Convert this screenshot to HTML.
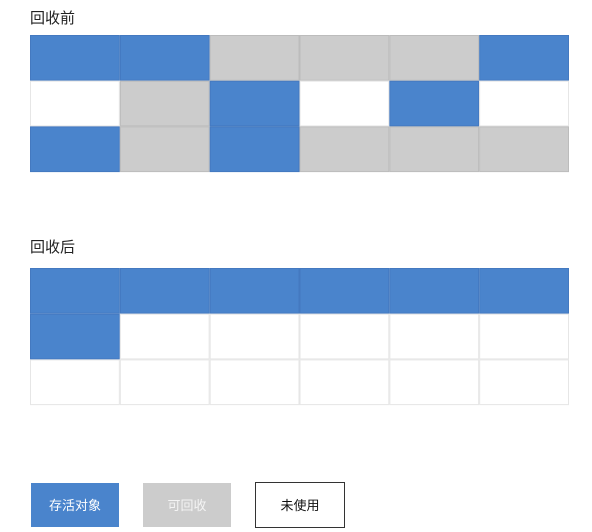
<!DOCTYPE html>
<html><head><meta charset="utf-8"><style>
html,body{margin:0;padding:0;background:#fff;width:592px;height:532px;overflow:hidden}
svg{display:block}
text{font-family:"Liberation Sans","Noto Sans CJK SC",sans-serif}
</style></head><body>
<svg id="c" width="592" height="532">
<text x="30" y="23" font-size="15" fill="#222">回收前</text>
<text x="30" y="252" font-size="15" fill="#222">回收后</text>
<g id="g1"></g>
<g id="g2"></g>
<g>
<rect x="31" y="483" width="88" height="44" fill="#4a84cc"/>
<text x="75" y="510" font-size="13" fill="#fff" text-anchor="middle">存活对象</text>
<rect x="143" y="483" width="88" height="44" fill="#cccccc"/>
<text x="187" y="510" font-size="13" fill="#f4f4f4" text-anchor="middle">可回收</text>
<rect x="255.5" y="482.5" width="89" height="45" fill="#fff" stroke="#333" stroke-width="1"/>
<text x="300" y="510" font-size="13" fill="#111" text-anchor="middle">未使用</text>
</g>
</svg>
<script>
// 0 = unused, 1 = live, 2 = reclaimable
const beforeCells = [1,1,2,2,2,1, 0,2,1,0,1,0, 1,2,1,2,2,2];
const afterCells  = [1,1,1,1,1,1, 1,0,0,0,0,0, 0,0,0,0,0,0];
const cols = 6;
const fills = ['#ffffff','#4a84cc','#cccccc'];
const strokes = ['#e6e6e6','#4479c0','#bcbcbc'];
const names = ['unused','live','reclaimable'];
const NS = 'http://www.w3.org/2000/svg';
function draw(gid, cells, top){
  const g = document.getElementById(gid);
  const x0 = 30, w = (569-30)/cols, h = 45.7;
  cells.forEach((v,i)=>{
    const r = Math.floor(i/cols), c = i%cols;
    const el = document.createElementNS(NS,'rect');
    el.setAttribute('x', x0 + c*w + 0.5);
    el.setAttribute('y', top + r*h + 0.5);
    el.setAttribute('width', w - 1);
    el.setAttribute('height', h - 1);
    el.setAttribute('fill', fills[v]);
    el.setAttribute('stroke', strokes[v]);
    el.setAttribute('stroke-width', '1');
    
    
    g.appendChild(el);
  });
}
draw('g1', beforeCells, 35);
draw('g2', afterCells, 268);
</script>
</body></html>
